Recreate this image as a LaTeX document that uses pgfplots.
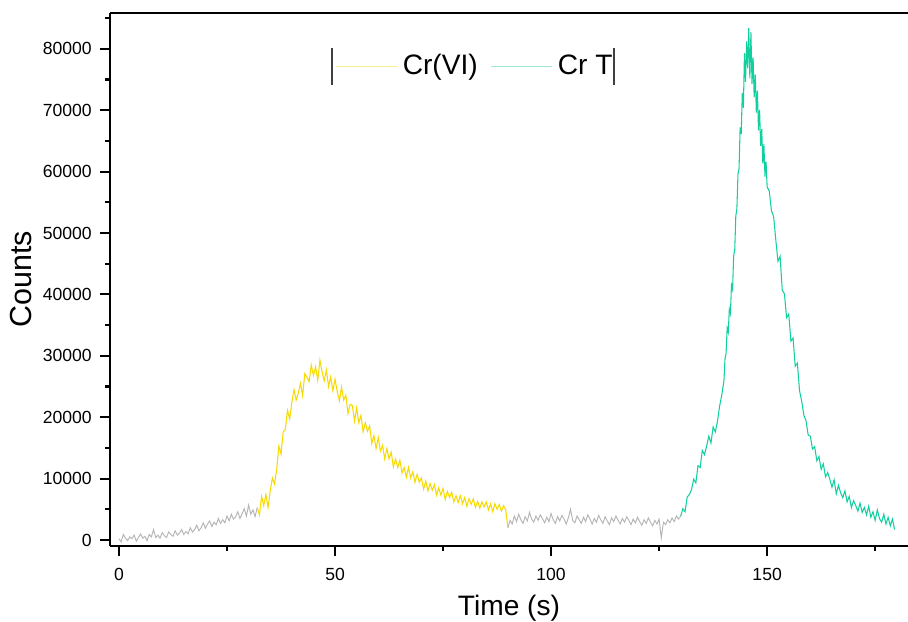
\documentclass[border=0pt]{standalone}
\usepackage{fontspec}
\setmainfont{Liberation Sans}
\usepackage{pgfplots}
\pgfplotsset{compat=1.18}
\definecolor{crvi}{HTML}{F7DA00}
\definecolor{crt}{HTML}{12CFA0}
\definecolor{bgline}{HTML}{B5B5B5}

% grey baseline before the first peak
\pgfplotstableread{
x y
0 200
0.5 -300
1 900
1.5 300
2 -100
2.5 500
3 200
3.5 800
4 -200
4.5 400
5 1000
5.5 300
6 600
6.5 -100
7 900
7.5 500
8 1700
8.5 400
9 800
9.5 300
10 1200
10.5 700
11 400
11.5 1300
12 900
12.5 600
13 1500
13.5 800
14 1100
14.5 1700
15 900
15.5 1400
16 1000
16.5 2000
17 1300
17.5 1700
18 2400
18.5 1500
19 2000
19.5 2800
20 1900
20.5 2600
21 3100
21.5 2200
22 2900
22.5 2500
23 3500
23.5 2700
24 3300
24.5 2800
25 3900
25.5 3100
26 4200
26.5 3400
27 3800
27.5 4600
28 3500
28.5 4300
29 5100
29.5 3900
30 5700
30.5 4200
31 4900
31.5 3800
32 5300
}\greyA

\pgfplotstableread{
x y
32 5300
32.5 4100
33 7100
33.5 5600
34 7400
34.5 5300
35 8000
35.5 10100
36 9100
36.5 11500
37 15300
37.5 14000
38 17600
38.5 18000
39 21100
39.5 19700
40 22400
40.5 24500
41 22800
41.5 23900
42 25500
42.5 23500
43 27100
43.5 26500
44 25800
44.5 28500
45 26800
45.5 28200
46 26000
46.5 29300
47 27400
47.5 25900
48 27700
48.5 25000
49 26600
49.5 24300
50 26200
50.5 24200
51 22700
51.5 24900
52 22800
52.5 23600
53 20600
53.5 22100
54 21900
54.5 19400
55 21500
55.5 19100
56 20300
56.5 17600
57 19100
57.5 17700
58 18600
58.5 15700
59 17000
59.5 14900
60 16700
60.5 14500
61 15400
61.5 13200
62 14900
62.5 13200
63 14300
63.5 11900
64 13200
64.5 11800
65 13000
65.5 10900
66 11800
66.5 10200
67 11800
67.5 10100
68 11100
68.5 9400
69 10700
69.5 9400
70 10100
70.5 8300
71 9600
71.5 8000
72 9200
72.5 8100
73 9000
73.5 7300
74 8500
74.5 7300
75 8400
75.5 6600
76 7900
76.5 6900
77 7800
77.5 6200
78 7200
78.5 6100
79 7200
79.5 5900
80 6900
80.5 5500
81 6700
81.5 5800
82 6700
82.5 5300
83 6300
83.5 5200
84 6200
84.5 5400
85 6200
85.5 4900
86 5900
86.5 4600
87 5900
87.5 5000
88 5800
88.5 4700
89 5600
89.5 4900
90 2000
}\yellow

\pgfplotstableread{
x y
90 2000
90.5 3200
91 2600
91.5 3900
92 3000
92.5 4200
93 3300
93.5 2700
94 3800
94.5 3100
95 4500
95.5 3400
96 2900
96.5 3900
97 3200
97.5 4100
98 3500
98.5 2800
99 3700
99.5 3000
100 4300
100.5 3300
101 2700
101.5 3800
102 3100
102.5 4000
103 3400
103.5 2600
104 3600
104.5 5000
105 3200
105.5 2800
106 3900
106.5 3300
107 2700
107.5 3700
108 3000
108.5 4100
109 3400
109.5 2600
110 3500
110.5 2900
111 4000
111.5 3300
112 2700
112.5 3800
113 3100
113.5 2500
114 3600
114.5 3000
115 3900
115.5 3200
116 2600
116.5 3500
117 2900
117.5 3800
118 3200
118.5 2500
119 3400
119.5 2800
120 3700
120.5 3000
121 2400
121.5 3300
122 2700
122.5 3600
123 2900
123.5 2300
124 3200
124.5 2600
125 3400
125.5 300
126 2900
126.5 2500
127 3300
127.5 2800
128 3600
128.5 3000
129 3900
129.5 3400
130 3900
}\greyB

\pgfplotstableread{
x y
130 3900
130.5 5100
131 4600
131.5 7000
132 7400
132.5 8200
133 9900
133.5 9300
134 12100
134.5 11800
135 14600
135.5 13900
136 15300
136.5 16900
137 15800
137.5 18400
138 17600
138.5 19300
139 21800
139.5 23600
140 25900
140.25 29500
140.5 30400
140.75 34500
141 33800
141.25 37600
141.5 36900
141.75 41500
142 40800
142.25 46300
142.5 47200
142.75 52800
143 53900
143.25 59600
143.5 60500
143.75 67200
144 66100
144.25 72800
144.5 70400
144.75 79300
145 74600
145.25 81200
145.5 76800
145.75 83400
146 75200
146.25 82700
146.5 74300
146.75 78600
147 72100
147.25 75800
147.5 69600
147.75 73200
148 66700
148.25 70100
148.5 64200
148.75 66900
149 61300
149.25 64500
149.5 59200
149.75 61600
150 57500
150.5 56800
151 53600
151.5 52700
152 48900
152.5 45400
153 46200
153.5 40700
154 40100
154.5 36200
155 36800
155.5 32400
156 32900
156.5 28300
157 28800
157.5 24300
158 22600
158.5 20300
159 19400
159.5 17100
160 16900
160.5 14800
161 15200
161.5 12900
162 13600
162.5 11500
163 12400
163.5 10300
164 11000
164.5 9900
165 8600
165.5 9800
166 7500
166.5 8900
167 7700
167.5 6900
168 8000
168.5 6200
169 7100
169.5 5300
170 6400
170.5 5600
171 4700
171.5 6000
172 4500
172.5 5300
173 4100
173.5 5500
174 3700
174.5 4600
175 3200
175.5 4900
176 3500
176.5 2900
177 4200
177.5 2600
178 3700
178.5 2300
179 3400
179.5 1700
}\teal

\begin{document}
\begin{tikzpicture}
\begin{axis}[
    name=ax, at={(0,0)}, anchor=south west,
    scale only axis, width=11.97cm, height=7.995cm,
    xmin=-2.08, xmax=182.6, ymin=-980, ymax=85830,
    axis x line*=box, axis y line*=left,
    axis line style={line width=0.9pt},
    xtick={0,50,100,150}, minor xtick={25,75,125,175},
    ytick={0,10000,...,80000}, minor ytick={5000,15000,...,85000},
    xtick pos=bottom, ytick pos=left,
    tick align=outside,
    major tick length=0.15cm, minor tick length=0.075cm,
    every tick/.style={black, line width=0.9pt},
    scaled ticks=false,
    tick label style={font=\fontsize{7.5}{9}\selectfont},
    xticklabel style={yshift=-0.06cm},
    xlabel={Time (s)}, ylabel={Counts},
    xlabel style={font=\fontsize{12}{14}\selectfont, yshift=0.03cm},
    ylabel style={font=\fontsize{13}{15}\selectfont, yshift=-0.08cm},
    legend columns=2,
    legend style={draw=none, fill=none, at={(rel axis cs:0.459,0.9)}, anchor=center,
        font=\fontsize{12}{14}\selectfont,
        /tikz/every even column/.append style={column sep=0.12cm}},
    legend image code/.code={\draw[#1, line width=0.6pt] (0cm,0cm) -- (0.92cm,0cm);},
    /pgf/number format/1000 sep={},
    /pgf/number format/assume math mode=true,
  ]
  \addplot[bgline, line width=0.4pt, forget plot] table {\greyA};
  \addplot[crvi, line width=0.45pt, legend image post style={crvi!45}] table {\yellow};
  \addlegendentry{Cr(VI)}
  \addplot[bgline, line width=0.4pt, forget plot] table {\greyB};
  \addplot[crt, line width=0.45pt, legend image post style={crt!40}] table {\teal};
  \addlegendentry{Cr T}
  \draw[line width=0.8pt, black!75] (rel axis cs:0.278,0.865) -- (rel axis cs:0.278,0.934);
  \draw[line width=0.8pt, black!75] (rel axis cs:0.632,0.865) -- (rel axis cs:0.632,0.934);
\end{axis}
\pgfresetboundingbox
\path (-1.65,-1.125) rectangle (11.97,8.19);
\end{tikzpicture}
\end{document}
